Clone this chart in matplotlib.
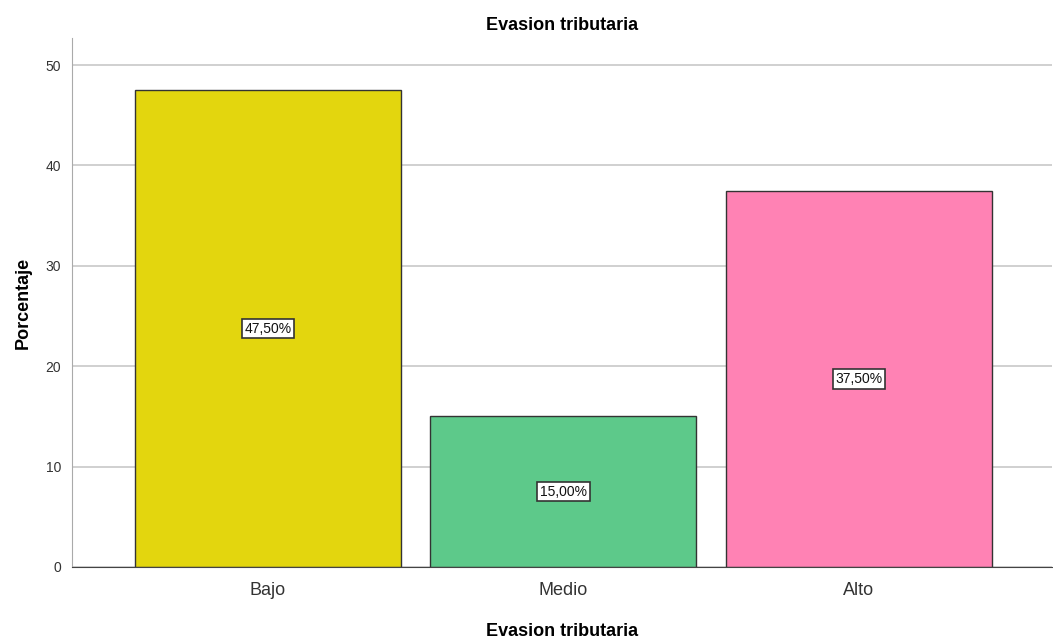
import matplotlib
matplotlib.use("Agg")
import matplotlib.pyplot as plt

categories = ["Bajo", "Medio", "Alto"]
values = [47.5, 15.0, 37.5]
labels = ["47,50%", "15,00%", "37,50%"]
colors = ["#E3D60E", "#5DC98A", "#FF82B4"]
yticks = [0, 10, 20, 30, 40, 50]

plt.rcParams['font.family'] = ['Liberation Sans', 'DejaVu Sans']
fig = plt.figure(figsize=(10.53, 6.44), dpi=100)
ax = fig.add_axes([0.0684, 0.1196, 0.9306, 0.8214])
x = list(range(len(categories)))
ax.set_axisbelow(True)
ax.yaxis.grid(True, color="#C8C8C8", linewidth=1.2)
ax.bar(x, values, width=0.9, color=colors, edgecolor="#333333", linewidth=1.0)
for xi, v, lab in zip(x, values, labels):
    ax.text(xi, v / 2, lab, ha="center", va="center", fontsize=10, color="#111111",
            bbox=dict(boxstyle="square,pad=0.2", facecolor="white", edgecolor="#333333", linewidth=1.2))
ax.set_xlim(-0.663, 2.653)
ax.set_ylim(0, 52.7)
ax.set_yticks(yticks)
ax.set_xticks(x)
ax.set_xticklabels(categories, fontsize=13, color="#333333")
ax.tick_params(axis="x", length=0, pad=11)
ax.tick_params(axis="y", length=0, pad=8, labelsize=10, labelcolor="#333333")
for s in ["top", "right"]:
    ax.spines[s].set_visible(False)
ax.spines["left"].set_color("#AAAAAA")
ax.spines["bottom"].set_color("#444444")
ax.set_ylabel("Porcentaje", fontsize=13, fontweight="bold", labelpad=10)
ax.set_xlabel("Evasion tributaria", fontsize=13, fontweight="bold", labelpad=17)
ax.set_title("Evasion tributaria", fontsize=13, fontweight="bold", pad=6)
fig.savefig("out.png", dpi=100)
